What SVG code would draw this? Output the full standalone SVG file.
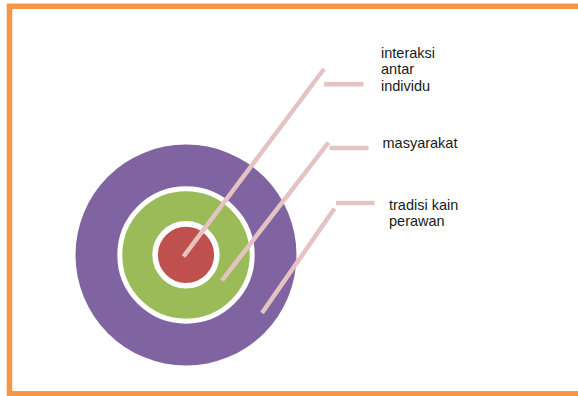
<svg xmlns="http://www.w3.org/2000/svg" width="578" height="396" viewBox="0 0 578 396">
<style>
.lbl{font-family:"Liberation Sans",Arial,sans-serif;font-size:14.5px;fill:#1a1a1a}
.ln{stroke:#E6C3C3;stroke-width:4.5;fill:none}
</style>
<rect x="0" y="0" width="578" height="396" fill="#ffffff"/>
<rect id="frame" x="9.5" y="6.3" width="600" height="387.5" fill="none" stroke="#F79646" stroke-width="5.5"/>
<g id="outer">
<circle cx="186" cy="255" r="110.5" fill="#8064A2"/>
</g>
<g id="middle">
<circle cx="186" cy="255" r="66.2" fill="#9BBB59" stroke="#ffffff" stroke-width="5"/>
</g>
<g id="inner">
<circle cx="186" cy="254.8" r="30.9" fill="#C0504D" stroke="#ffffff" stroke-width="5.6"/>
</g>
<g id="connectors">
<line class="ln" x1="183.5" y1="256.5" x2="324" y2="69"/>
<line class="ln" x1="324" y1="84.3" x2="363.5" y2="84.3"/>
<line class="ln" x1="222" y1="280.5" x2="328.5" y2="142.5"/>
<line class="ln" x1="329.5" y1="148" x2="368.5" y2="148"/>
<line class="ln" x1="262" y1="313" x2="334.5" y2="208.5"/>
<line class="ln" x1="336" y1="203" x2="374.5" y2="203"/>
</g>
<g id="label1">
<text class="lbl" x="381" y="57.7">interaksi</text>
<text class="lbl" x="381" y="74.2">antar</text>
<text class="lbl" x="381" y="90.7">individu</text>
</g>
<g id="label2">
<text class="lbl" x="382.5" y="148.3">masyarakat</text>
</g>
<g id="label3">
<text class="lbl" x="389" y="210">tradisi kain</text>
<text class="lbl" x="389" y="226">perawan</text>
</g>
</svg>
